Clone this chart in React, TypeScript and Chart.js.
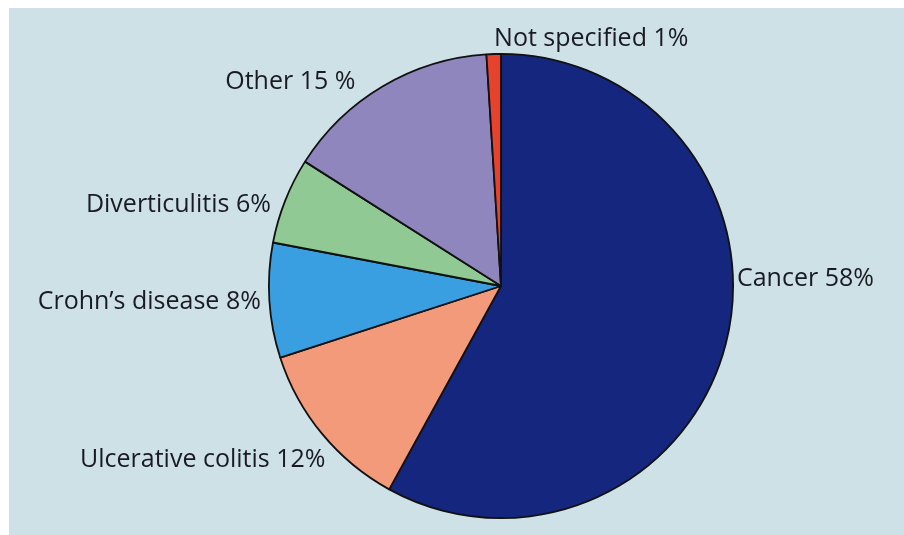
import React, { useEffect, useRef } from "react";
import { Chart, registerables } from "chart.js";

Chart.register(...registerables);

const categories = [
  "Cancer 58%",
  "Ulcerative colitis 12%",
  "Crohn\u2019s disease 8%",
  "Diverticulitis 6%",
  "Other 15 %",
  "Not specified 1%",
];
const shares = [58, 12, 8, 6, 15, 1];
const sliceColors = ["#15267f", "#f29a7a", "#399fe0", "#90c993", "#8f86bd", "#e6422c"];

// label placement: angle (deg clockwise from 12 o'clock), distance in radii, alignment
const labelLayout = [
  { angle: 88.3, dist: 1.017, align: "left" },
  { angle: 225.2, dist: 1.066, align: "right" },
  { angle: 266.2, dist: 1.037, align: "right" },
  { angle: 289.5, dist: 1.052, align: "right" },
  { angle: 324.5, dist: 1.08, align: "right" },
  { angle: 358.4, dist: 1.065, align: "left" },
];

const labelPlugin = {
  id: "outerLabels",
  afterDatasetsDraw(chart: any) {
    const meta = chart.getDatasetMeta(0);
    const ctx = chart.ctx;
    ctx.save();
    ctx.fillStyle = "#1a1a22";
    ctx.font = "25px 'Open Sans'";
    ctx.textBaseline = "middle";
    meta.data.forEach((arc: any, i: number) => {
      const lay = labelLayout[i];
      const a = (lay.angle * Math.PI) / 180;
      const r = arc.outerRadius * lay.dist;
      const x = arc.x + Math.sin(a) * r;
      const y = arc.y - Math.cos(a) * r;
      ctx.textAlign = lay.align;
      ctx.fillText(chart.data.labels[i], x, y);
    });
    ctx.restore();
  },
};

export default function App() {
  const ref = useRef<HTMLCanvasElement>(null);
  useEffect(() => {
    document.body.style.margin = "0";
    const chart = new Chart(ref.current!, {
      type: "pie",
      data: {
        labels: categories,
        datasets: [
          {
            data: shares,
            backgroundColor: sliceColors,
            borderColor: "#111111",
            borderWidth: 1.8,
          },
        ],
      },
      options: {
        animation: false,
        responsive: false,
        layout: { padding: { left: 200, right: 111, top: 45, bottom: 16 } },
        plugins: { legend: { display: false }, tooltip: { enabled: false } },
      },
      plugins: [labelPlugin],
    });
    return () => chart.destroy();
  }, []);
  return (
    <div style={{ position: "relative", width: 904, height: 535, background: "#ffffff" }}>
      <div style={{ position: "absolute", left: 9, top: 8, width: 895, height: 527, background: "#cde1e6" }}>
        <canvas ref={ref} width={895} height={527} style={{ display: "block" }} />
      </div>
    </div>
  );
}
